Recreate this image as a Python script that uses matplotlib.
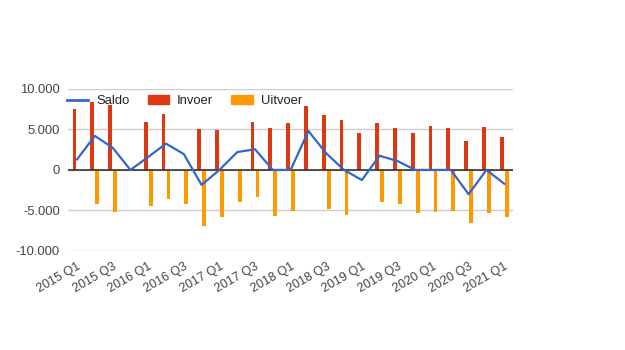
import numpy as np
import matplotlib.pyplot as plt
from matplotlib.lines import Line2D
from matplotlib.patches import Patch

plt.rcParams['font.family'] = ['Liberation Sans', 'DejaVu Sans']

kwartalen = [f'{j} Q{q}' for j in range(2015, 2022) for q in range(1, 5)][:25]
invoer = [7500, 8400, 8000, 0, 5900, 6900, 0, 5050, 4900, 0, 5900, 5200, 5750,
          7850, 6750, 6100, 4550, 5750, 5150, 4550, 5400, 5150, 3550, 5250, 4050]
uitvoer = [0, -4250, -5200, 0, -4500, -3650, -4250, -6900, -5800, -4000, -3350, -5700, -5100,
           0, -4850, -5600, 0, -4000, -4250, -5350, -5250, -5100, -6550, -5350, -5850]
saldo = [1300, 4200, 2750, 0, 1600, 3250, 1950, -1850, 0, 2200, 2550, 0, 0,
         4800, 2050, 0, -1250, 1750, 1100, 0, 0, 0, -3000, 0, -1700]

rood = '#dc3912'
oranje = '#ff9900'
blauw = '#3366cc'

x = np.arange(len(kwartalen))

fig = plt.figure(figsize=(6.25, 3.5), dpi=100)
ax = fig.add_axes([0.109, 0.283, 0.712, 0.463])

ax.bar(x - 0.14, invoer, width=0.22, color=rood, zorder=2)
ax.bar(x + 0.14, uitvoer, width=0.22, color=oranje, zorder=2)
ax.plot(x, saldo, color=blauw, lw=1.6, zorder=3)

ax.set_xlim(-0.5, len(x) - 0.5)
ax.set_ylim(-10000, 10000)
ax.set_yticks([-10000, -5000, 0, 5000, 10000])
ax.set_yticklabels(['-10.000', '-5.000', '0', '5.000', '10.000'])
ax.grid(axis='y', color='#cccccc', lw=1, zorder=0)
ax.axhline(0, color='#333333', lw=1.2, zorder=2.5)
for s in ax.spines.values():
    s.set_visible(False)
ax.tick_params(axis='both', length=0, labelsize=9.4, labelcolor='#444444')
ax.tick_params(axis='y', pad=6)

ax.set_xticks(x[::2])
ax.set_xticklabels(kwartalen[::2], rotation=30, ha='right', va='top',
                   rotation_mode='anchor', fontsize=9)
ax.tick_params(axis='x', pad=7)

handles = [Line2D([], [], color=blauw, lw=2),
           Patch(color=rood), Patch(color=oranje)]
fig.legend(handles, ['Saldo', 'Invoer', 'Uitvoer'], ncol=3, frameon=False,
           loc='upper left', bbox_to_anchor=(0.092, 0.755), fontsize=9.4,
           handlelength=1.65, handleheight=0.75, handletextpad=0.6,
           columnspacing=1.4, labelcolor='#222222', borderpad=0.2)

fig.savefig('out.png', dpi=100)
